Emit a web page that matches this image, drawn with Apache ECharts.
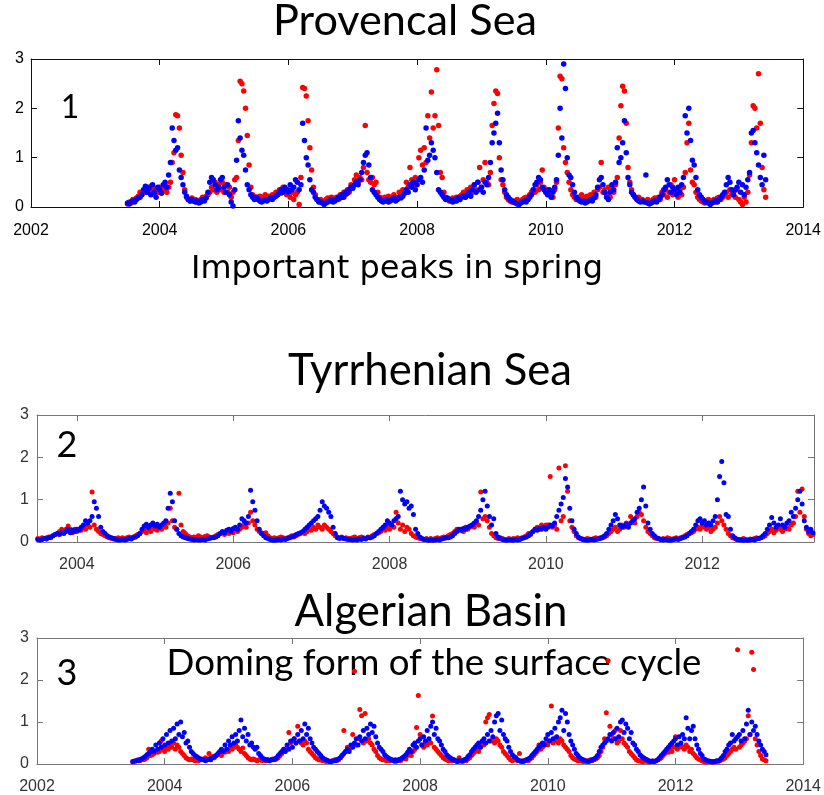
<!DOCTYPE html>
<html><head><meta charset="utf-8">
<script src="https://cdn.jsdelivr.net/npm/echarts@6/dist/echarts.min.js"></script>
<style>html,body{margin:0;padding:0;background:#fff}#c{width:824px;height:795px}</style>
</head><body><div id="c"></div>
<script>
// Regular 10-day composites, starting mid-2003
const samplesPerYear = 36;
const sampleStart = 2003.5;

const yTicks = [0, 1, 2, 3];
const xTicksFull = [2002, 2004, 2006, 2008, 2010, 2012, 2014];
const xTicksTyr = [2004, 2006, 2008, 2010, 2012];

const titles = ['Provencal Sea', 'Tyrrhenian Sea', 'Algerian Basin'];
const notes = ['Important peaks in spring', 'Doming form of the surface cycle'];
const panelNums = ['1', '2', '3'];

// Panel 1 : Provencal Sea
const p1Red = [
.06,.1,.08,.15,.12,.18,.22,.3,.25, .35,.3,.4,.3,.42,.35,.25,.38,.3, .4,.3,.35,.45,.3,.4,.5,.9,1.1, 1.87,1.85,1.6,1.05,.7,.35,.2,.15,.12,
.18,.12,.15,.1,.12,.15,.2,.18,.22, .25,.3,.4,.35,.5,.3,.45,.35,.5, .3,.45,.3,.4,.2,.3,.55,.6,1.35, 2.55,2.5,2.35,2.0,1.45,.85,.4,.25,.2,
.2,.18,.22,.15,.2,.25,.18,.22,.2, .25,.2,.3,.25,.35,.28,.4,.3,.25, .35,.2,.3,.15,.25,.3,.05,.6,2.42, 2.4,2.25,1.75,1.2,.75,.4,.25,.15,.12,
.15,.12,.1,.15,.18,.12,.2,.15,.18, .2,.15,.25,.2,.3,.25,.35,.3,.45, .4,.55,.65,.5,.6,.55,.8,1.65,.7, .55,.5,.6,.45,.5,.3,.2,.18,.15,
.2,.18,.22,.15,.2,.25,.2,.18,.3, .25,.35,.3,.5,.4,.8,.55,.45,.6, .55,1.0,1.15,.85,1.2,.9,1.85,1.4,2.33, 1.6,1.85,2.78,1.65,.7,.6,.3,.2,.15,
.12,.15,.18,.12,.2,.15,.22,.25,.3, .2,.35,.25,.4,.3,.45,.35,.5,.8, .4,.55,.9,.5,.45,.7,1.65,2.1,2.35, 2.3,1.0,.55,.45,.3,.2,.15,.12,.1,
.12,.1,.15,.1,.12,.15,.18,.2,.15, .25,.3,.35,.3,.45,.35,.5,.75,.4, .3,.35,.25,.3,.2,.35,.5,1.6,2.65, 2.6,1.2,.9,.7,.5,.35,.25,.2,.15,
.2,.18,.25,.15,.2,.22,.18,.25,.2, .3,.2,.35,.4,.9,.3,.35,.25,.4, .2,.35,.3,.45,.6,1.4,2.05,2.45,2.35, 1.7,.8,.5,.35,.25,.2,.15,.2,.12,
.15,.12,.1,.15,.1,.12,.15,.18,.12, .2,.15,.3,.25,.35,.2,.3,.45,.25, .55,.3,.2,.35,.25,.4,.7,1.3,1.7, .75,.5,.45,.3,.2,.15,.12,.1,.08,
.12,.15,.1,.12,.15,.1,.18,.2,.15, .2,.25,.3,.2,.35,.25,.3,.2,.35, .15,.1,.05,.2,.1,.3,.65,1.3,2.05, 2.0,1.6,2.7,1.7,.8,.35,.2
];
const p1Blue = [
.08,.06,.1,.12,.1,.15,.18,.2,.25, .35,.42,.3,.38,.25,.45,.3,.2,.4, .35,.28,.45,.5,.4,.65,.9,1.6,1.35, 1.15,1.2,.75,.6,.45,.3,.22,.15,.12,
.15,.12,.1,.12,.08,.1,.15,.12,.18, .3,.5,.6,.55,.45,.35,.4,.55,.6, .4,.3,.45,.25,.1,.02,.35,.95,1.75, 1.4,1.15,1.05,.75,.45,.35,.25,.2,.15,
.2,.15,.12,.1,.12,.15,.12,.15,.18, .15,.2,.22,.25,.3,.35,.3,.4,.35, .3,.45,.35,.4,.55,.5,.35,.45,1.7, 1.35,1.0,.85,.55,.35,.3,.2,.15,.1,
.1,.08,.05,.08,.1,.12,.15,.1,.12, .15,.2,.18,.25,.2,.3,.28,.35,.4, .38,.45,.5,.45,.55,.7,.9,1.05,1.1, .85,.6,.35,.3,.25,.2,.15,.12,.1,
.12,.15,.1,.12,.15,.18,.12,.15,.2, .18,.22,.28,.35,.3,.45,.4,.5,.35, .45,.55,.6,.5,.75,1.6,.95,1.05,1.3, 1.15,1.0,.7,.35,.3,.25,.2,.15,.18,
.15,.12,.1,.15,.12,.18,.15,.2,.22, .2,.25,.3,.22,.35,.45,.3,.5,.35, .4,.3,.5,.45,.6,.9,1.3,1.5,1.7, 1.9,1.3,.75,.55,.35,.25,.2,.15,.12,
.1,.08,.06,.05,.08,.1,.12,.1,.15, .2,.25,.35,.45,.5,.6,.55,.4,.35, .3,.25,.35,.2,.3,.4,.55,1.05,2.0, 1.4,2.9,2.4,1.0,.65,.6,.45,.3,.2,
.15,.12,.1,.12,.08,.1,.12,.15,.12, .18,.25,.4,.55,.6,.45,.3,.2,.15, .3,.45,.35,.5,1.2,.9,1.0,1.3,1.75, 1.1,.6,.45,.3,.25,.2,.15,.12,.1,
.12,.1,.65,.08,.06,.08,.1,.12,.1, .15,.2,.25,.35,.4,.55,.45,.3,.4, .35,.25,.4,.3,.45,.6,1.85,1.5,2.0, 1.35,.95,.85,.6,.35,.25,.2,.15,.1,
.1,.08,.05,.08,.1,.12,.1,.15,.2, .25,.3,.45,.6,.5,.35,.25,.35,.4, .5,.3,.45,.25,.4,.55,.7,1.5,1.55, 1.3,1.1,.85,.6,.45,1.05,.55
];

// Panel 2 : Tyrrhenian Sea
const p2Red = [
.08,.07,.1,.08,.1,.12,.1,.15,.18, .2,.25,.3,.25,.3,.38,.3,.22,.3, .25,.3,.28,.35,.3,.4,.35,1.18,.4, .3,.25,.2,.18,.15,.12,.1,.08,.07,
.08,.1,.07,.1,.08,.1,.12,.1,.12, .15,.18,.2,.25,.3,.22,.3,.25,.35, .3,.28,.35,.3,.4,.35,.45,.8,.5, .35,.3,1.15,.4,.25,.2,.15,.12,.1,
.12,.1,.15,.12,.1,.13,.15,.12,.1, .12,.15,.18,.2,.22,.18,.25,.2,.28, .22,.3,.25,.3,.35,.4,.35,.45,.7, .5,.4,.3,.25,.22,.2,.22,.15,.1,
.08,.1,.08,.1,.12,.1,.08,.1,.12, .15,.12,.15,.18,.2,.22,.2,.25,.3, .28,.35,.3,.4,.35,.3,.4,.35,.3, .25,.2,.15,.12,.1,.12,.08,.1,.08,
.08,.1,.12,.08,.1,.12,.1,.08,.12, .1,.15,.18,.2,.22,.25,.3,.28,.35, .3,.4,.35,.7,.45,.3,.4,.25,.35, .3,.2,.15,.12,.1,.08,.07,.06,.08,
.06,.08,.06,.08,.1,.08,.1,.12,.1, .15,.18,.2,.25,.3,.28,.3,.25,.35, .3,.35,.4,.35,.45,.4,1.18,.55,.6, .5,.35,.2,.15,.1,.08,.1,.08,.06,
.06,.08,.06,.08,.07,.1,.08,.1,.12, .15,.2,.18,.25,.3,.35,.3,.4,.35, .4,.4,1.55,.35,.4,.3,1.75,.5,.6, 1.8,1.2,.5,.35,.25,.15,.1,.08,.07,
.06,.08,.07,.06,.08,.1,.08,.1,.12, .12,.15,.2,.25,.3,.35,.25,.3,.4, .35,.45,.4,.6,.5,.45,.6,.7,.65, .5,.35,.25,.2,.15,.1,.08,.07,.06,
.08,.06,.1,.08,.06,.08,.1,.08,.1, .12,.15,.18,.2,.22,.25,.3,.35,.3, .4,.35,.3,.35,.25,.3,.35,.45,.6, .5,.4,.3,.2,.15,.1,.08,.07,.06,
.06,.08,.06,.05,.07,.06,.08,.1,.08, .1,.12,.15,.2,.25,.3,.22,.28,.35, .3,.25,.3,.35,.3,.4,.45,.6,1.2, .7,1.25,.6,.3,.2,.15,.18
];
const p2Blue = [
.06,.05,.06,.08,.07,.1,.12,.15,.18, .2,.18,.22,.2,.25,.3,.22,.28,.25, .3,.28,.35,.4,.5,.45,.5,.6,.95, .8,.6,.35,.25,.2,.15,.12,.1,.08,
.06,.05,.05,.06,.05,.06,.08,.07,.1, .12,.15,.2,.3,.38,.42,.35,.4,.45, .38,.42,.35,.4,.45,.5,.8,1.15,.95, .5,.3,.2,.15,.12,.1,.08,.07,.06,
.05,.06,.05,.05,.06,.05,.07,.08,.1, .1,.12,.15,.2,.25,.22,.28,.3,.25, .32,.35,.3,.4,.55,.5,.45,.6,1.22, .95,.75,.5,.3,.2,.15,.1,.08,.06,
.05,.04,.05,.06,.05,.07,.06,.08,.1, .12,.15,.18,.2,.22,.25,.3,.35,.4, .45,.5,.55,.6,.75,.95,.85,.8,.7, .6,.35,.2,.1,.08,.1,.08,.07,.06,
.06,.05,.06,.05,.07,.06,.08,.07,.1, .1,.12,.15,.2,.25,.3,.35,.4,.5, .45,.4,.5,.55,.6,1.2,1.0,.9,.95, .8,.85,.65,.3,.2,.12,.08,.06,.05,
.04,.05,.04,.05,.06,.05,.07,.08,.1, .1,.12,.15,.2,.25,.3,.28,.32,.3, .35,.38,.4,.45,.5,.6,.75,1.0,1.2, .85,.6,.4,.55,.2,.12,.08,.06,.05,
.04,.05,.05,.04,.06,.05,.06,.08,.1, .12,.15,.2,.25,.3,.28,.32,.3,.35, .3,.35,.4,.38,.45,.6,.75,.9,1.05, 1.5,1.3,.8,.5,.3,.2,.12,.08,.06,
.05,.04,.05,.06,.05,.06,.07,.08,.1, .15,.2,.3,.4,.5,.65,.55,.4,.35, .38,.42,.35,.45,.5,.55,.7,.8,1.0, 1.3,.85,.45,.3,.2,.15,.1,.08,.06,
.05,.06,.05,.04,.05,.06,.07,.06,.08, .1,.12,.15,.2,.25,.3,.4,.5,.55, .45,.5,.4,.45,.4,.5,.6,1.0,1.55, 1.9,1.4,.65,.6,.3,.15,.1,.06,.05,
.05,.04,.05,.04,.05,.06,.05,.07,.08, .1,.15,.2,.3,.4,.58,.45,.35,.4, .55,.4,.35,.45,.5,.7,.6,.8,1.0, 1.2,.9,.5,.35,.25,.3,.22
];

// Panel 3 : Algerian Basin
const p3Red = [
.05,.06,.08,.1,.08,.12,.1,.12,.15, .35,.2,.22,.25,.3,.28,.3,.55,.35, .3,.4,.35,.45,.4,.5,.35,.45,.4, .3,.25,.2,.15,.12,.1,.12,.1,.08,
.1,.08,.1,.12,.1,.15,.1,.25,.15, .18,.15,.2,.22,.25,.2,.3,.28,.35, .3,.38,.35,.4,.45,.4,.35,.3,.38, .25,.2,.15,.12,.1,.12,.1,.08,.1,
.1,.08,.1,.08,.1,.08,.1,.12,.1, .12,.15,.2,.25,.3,.35,.4,.75,.5, .55,.6,.5,.9,.55,.5,.45,.55,.5, .35,.3,.25,.2,.15,.12,.1,.1,.08,
.08,.06,.08,.06,.07,.08,.1,.08,.1, .15,.2,.8,.3,.4,.35,.4,.7,2.21, .45,.6,1.3,1.15,.5,1.2,.55,.6,.5, .45,.35,.3,.2,.15,.12,.1,.1,.08,
.1,.08,.1,.08,.06,.08,.1,.08,.12, .15,.12,.2,.25,.2,.3,.35,.87,1.63, .7,.45,.4,.5,.45,.55,.5,1.14,.4, .35,.3,.25,.2,.15,.12,.1,.08,.1,
.08,.1,.08,.06,.15,.08,.06,.1,.08, .12,.15,.2,.25,.3,.35,.3,.4,.5, .45,1.0,1.1,1.18,.55,.6,.5,.6,.55, .45,.4,.3,.25,.2,.15,.1,.08,.1,
.1,.08,.25,.06,.08,.07,.1,.08,.12, .15,.2,.25,.3,.45,.35,.4,.45,.5, .45,.55,1.38,.5,.6,.55,.5,.6,.55, .45,.4,.35,.3,.2,.15,.12,.1,.08,
.08,.07,.06,.08,.06,.08,.1,.08,.1, .12,.15,.2,.3,.4,.6,1.22,2.46,.9, .7,.6,.8,.5,.55,.8,.6,.5,.45, .4,.3,.25,.2,.15,.1,.08,.07,.06,
.06,.08,.06,.05,.06,.07,.06,.08,.1, .12,.15,.2,.25,.3,.28,.35,.3,.4, .65,.35,.4,.45,.4,.35,.45,.4,.3, .35,.25,.2,.15,.12,.1,.08,.06,.05,
.05,.06,.05,.06,.05,.07,.06,.08,.1, .12,.15,.2,.25,.3,.35,.4,.35,2.72, .4,.45,.5,.55,.6,1.15,.7,2.66,2.25, .6,.45,.3,.2,.12,.1,.08
];
const p3Blue = [
.06,.07,.08,.08,.1,.12,.15,.18,.22, .25,.3,.35,.3,.45,.35,.5,.4,.6, .45,.7,.5,.8,.55,.85,.6,.95,.7, 1.0,.65,.75,.5,.55,.4,.3,.25,.2,
.18,.15,.12,.1,.1,.08,.1,.12,.1, .15,.18,.2,.25,.3,.35,.3,.45,.35, .55,.45,.65,.5,.7,.55,.8,1.05,.65, .85,.55,.7,.45,.5,.4,.35,.4,.25,
.2,.15,.12,.1,.1,.08,.1,.1,.12, .15,.2,.25,.3,.35,.3,.45,.35,.55, .4,.6,.5,.7,.55,.8,.6,.95,.7, .85,.6,.5,.4,.35,.3,.25,.2,.15,
.12,.1,.08,.06,.06,.08,.08,.1,.12, .15,.2,.25,.3,.35,.3,.45,.4,.5, .6,.45,.65,.55,.8,.6,.85,.7,.95, .75,.9,.65,.5,.4,.35,.3,.22,.18,
.15,.12,.1,.08,.1,.08,.1,.12,.15, .18,.22,.28,.35,.3,.45,.5,.4,.55, .6,.45,.65,.55,.8,.6,.9,1.0,.7, .85,.6,.55,.45,.35,.3,.22,.18,.15,
.12,.1,.08,.06,.08,.07,.08,.1,.12, .18,.22,.3,.35,.4,.45,.5,.4,.55, .6,.5,.7,.55,.8,.65,1.0,1.15,1.2, .8,1.05,.7,.6,.55,.4,.3,.22,.18,
.15,.1,.08,.07,.06,.08,.1,.12,.15, .2,.25,.3,.35,.4,.45,.5,.45,.6, .7,.55,.75,.6,.85,.65,1.0,1.1,1.28, .8,1.2,1.0,.7,.55,.45,.35,.25,.2,
.15,.12,.1,.08,.07,.06,.08,.1,.12, .15,.2,.3,.4,.45,.5,.55,.6,.7, .55,.75,.6,.85,.65,1.0,1.05,.75,.95, .85,.6,.75,.5,.45,.35,.3,.22,.18,
.15,.12,.1,.08,.06,.07,.06,.08,.1, .15,.2,.25,.3,.35,.4,.45,.5,.55, .6,.45,.65,.5,.7,.6,1.1,.85,.6, .8,.9,.6,.45,.35,.25,.2,.12,.1,
.08,.07,.06,.05,.06,.07,.08,.1,.15, .2,.3,.35,.45,.5,.7,.55,.6,.65, .7,.55,.8,.6,.95,1.28,.7,1.0,.8, .9,.7,.55,.45,.35,.3,.22
];

function toPoints(arr) {
  return arr.map((v, i) => [sampleStart + i / samplesPerYear, v]);
}

const mctx = document.createElement('canvas').getContext('2d');
function fitFont(text, family, width) {
  mctx.font = '100px ' + family;
  return 100 * width / mctx.measureText(text).width;
}

const grids = [
  {left: 31, top: 59, width: 780, height: 148},
  {left: 37, top: 415, width: 777, height: 127},
  {left: 37, top: 638, width: 777, height: 127}
];
const panelCfg = [
  {xmin: 2002, xmax: 2014, xticks: xTicksFull, frame: '#111', label: '#000', xMargin: 16},
  {xmin: 2003.49, xmax: 2013.43, xticks: xTicksTyr, frame: '#777', label: '#333', xMargin: 15},
  {xmin: 2002, xmax: 2014, xticks: xTicksFull, frame: '#777', label: '#333', xMargin: 15}
];

const xAxes = [], yAxes = [];
panelCfg.forEach((c, gi) => {
  const line = {show: true, onZero: false, lineStyle: {color: c.frame, width: 1}};
  const xt = {show: true, inside: true, length: 6, lineStyle: {color: c.frame}, customValues: c.xticks};
  const yt = {show: true, inside: true, length: 6, lineStyle: {color: c.frame}, customValues: yTicks};
  const lab = {fontSize: 16, fontFamily: 'Liberation Sans', color: c.label, formatter: v => String(v)};
  xAxes.push({type: 'value', gridIndex: gi, min: c.xmin, max: c.xmax, position: 'bottom',
    axisLine: line, axisTick: xt, splitLine: {show: false},
    axisLabel: Object.assign({customValues: c.xticks, margin: c.xMargin,
      alignMinLabel: 'center', alignMaxLabel: 'center', hideOverlap: false}, lab)});
  xAxes.push({type: 'value', gridIndex: gi, min: c.xmin, max: c.xmax, position: 'top',
    axisLine: line, axisTick: xt, splitLine: {show: false}, axisLabel: {show: false}});
  yAxes.push({type: 'value', gridIndex: gi, min: 0, max: 3, position: 'left',
    axisLine: line, axisTick: yt, splitLine: {show: false},
    axisLabel: Object.assign({customValues: yTicks, margin: gi === 0 ? 7 : 8}, lab)});
  yAxes.push({type: 'value', gridIndex: gi, min: 0, max: 3, position: 'right',
    axisLine: line, axisTick: yt, splitLine: {show: false}, axisLabel: {show: false}});
});

const seriesData = [[p1Red, p1Blue], [p2Red, p2Blue], [p3Red, p3Blue]];
const series = [];
seriesData.forEach((pair, gi) => {
  const size = gi === 0 ? 5.5 : 5;
  [['#ff0000', pair[0]], ['#0000ff', pair[1]]].forEach(([col, arr]) => {
    series.push({type: 'scatter', xAxisIndex: gi * 2, yAxisIndex: gi * 2, data: toPoints(arr),
      symbolSize: size, itemStyle: {color: col, opacity: 1}, z: 3, silent: true, animation: false});
  });
});

function txt(text, family, x, y, size) {
  return {type: 'text', x: x, y: y, z: 1, silent: true,
    style: {text: text, fontSize: size, fontFamily: family, fill: '#000',
      textAlign: 'center', textVerticalAlign: 'middle', align: 'center', verticalAlign: 'middle'}};
}
const graphics = [
  txt(titles[0], 'Lato', 405, 21, fitFont(titles[0], 'Lato', 264)),
  txt(titles[1], 'Lato', 430, 371, fitFont(titles[1], 'Lato', 284)),
  txt(titles[2], 'Lato', 431, 612, fitFont(titles[2], 'Lato', 273)),
  txt(notes[0], 'DejaVu Sans', 397, 270, fitFont(notes[0], 'DejaVu Sans', 412)),
  txt(notes[1], 'Lato', 434, 663, fitFont(notes[1], 'Lato', 535)),
  txt(panelNums[0], 'Lato', 70, 108, 32),
  txt(panelNums[1], 'Lato', 67, 445, 36),
  txt(panelNums[2], 'Lato', 67, 673, 36)
];

const chart = echarts.init(document.getElementById('c'), null, {renderer: 'canvas'});
chart.setOption({
  animation: false,
  grid: grids,
  xAxis: xAxes,
  yAxis: yAxes,
  series: series,
  graphic: graphics
});
</script></body></html>
